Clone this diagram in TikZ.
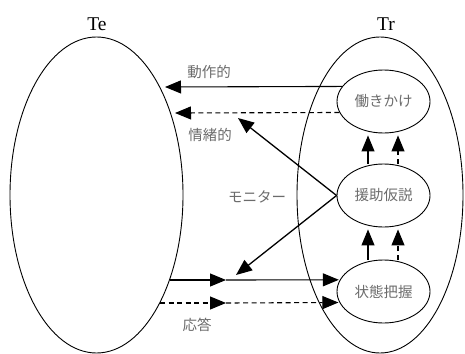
\documentclass[tikz,border=0pt]{standalone}
\usepackage{fontspec}
\newfontfamily\jp{Noto Sans CJK JP}
\newfontfamily\tfont{Liberation Serif}
\usetikzlibrary{shapes.geometric,arrows.meta}
\definecolor{txtgray}{gray}{0.42}
\tikzset{
  bigell/.style={ellipse,draw,line width=0.9pt,inner sep=0pt,minimum width=#1,minimum height=316pt},
  smell/.style={ellipse,draw,line width=0.9pt,inner sep=0pt,minimum width=93pt,minimum height=63pt,font=\jp\fontsize{14.5}{16}\selectfont,text=txtgray},
  jlabel/.style={font=\jp\fontsize{14.5}{16}\selectfont,text=txtgray},
  tlabel/.style={font=\tfont\fontsize{19.5}{22}\selectfont},
  arr/.style={line width=1.1pt,-{Triangle[length=16pt,width=13pt]}},
  darr/.style={arr,dash pattern=on 5pt off 3.5pt},
}
\begin{document}
\begin{tikzpicture}[x=1pt,y=-1pt]
\useasboundingbox (0,0) rectangle (465,353);
% big ellipses
\node[bigell=173pt] (te) at (96.5,195) {};
\node[bigell=166pt] (tr) at (380,195) {};
\node[tlabel] (telab) at (97,24) {Te};
\node[tlabel] (trlab) at (386,24) {Tr};
% small ellipses
\node[smell] (hk) at (383.5,101.5) {働きかけ};
\node[smell] (ej) at (383.5,195.5) {援助仮説};
\node[smell] (jh) at (383.5,291.5) {状態把握};
% coordinates
\coordinate (dA) at (165,87);
\coordinate (jA) at (175,113);
\coordinate (mU) at (238,118);
\coordinate (mD) at (236,275);
\coordinate (bS) at (169.5,280);
\coordinate (bM) at (226,280);
\coordinate (cS) at (160,303);
\coordinate (cM) at (226,303);
% labels
\node[jlabel] (l1) at (209,72) {動作的};
\node[jlabel] (l2) at (210,135) {情緒的};
\node[jlabel] (l3) at (257,197) {モニター};
\node[jlabel] (l4) at (197,325) {応答};
% top arrows
\draw[arr] (hk.160.6) -- (dA);
\draw[darr] (hk.194.9) -- (jA);
% monitor
\draw[arr,line width=1.3pt] (ej.west) -- (mU);
\draw[arr,line width=1.3pt] (ej.west) -- (mD);
% bottom arrows
\draw[arr] (bS) -- (bM);
\draw[arr,shorten >=1pt] (bM) -- (jh.165.1);
\draw[darr] (cS) -- (cM);
\draw[darr,shorten >=1pt] (cM) -- (jh.194.9);
% vertical arrows
\draw[arr,shorten >=2pt] ([xshift=-15.5pt]ej.north) -- ([xshift=-15.5pt]hk.south);
\draw[darr,shorten >=2pt] ([xshift=14.5pt]ej.north) -- ([xshift=14.5pt]hk.south);
\draw[arr,shorten >=2pt] ([xshift=-15.5pt]jh.north) -- ([xshift=-15.5pt]ej.south);
\draw[darr,shorten >=2pt] ([xshift=14.5pt]jh.north) -- ([xshift=14.5pt]ej.south);
\end{tikzpicture}
\end{document}
